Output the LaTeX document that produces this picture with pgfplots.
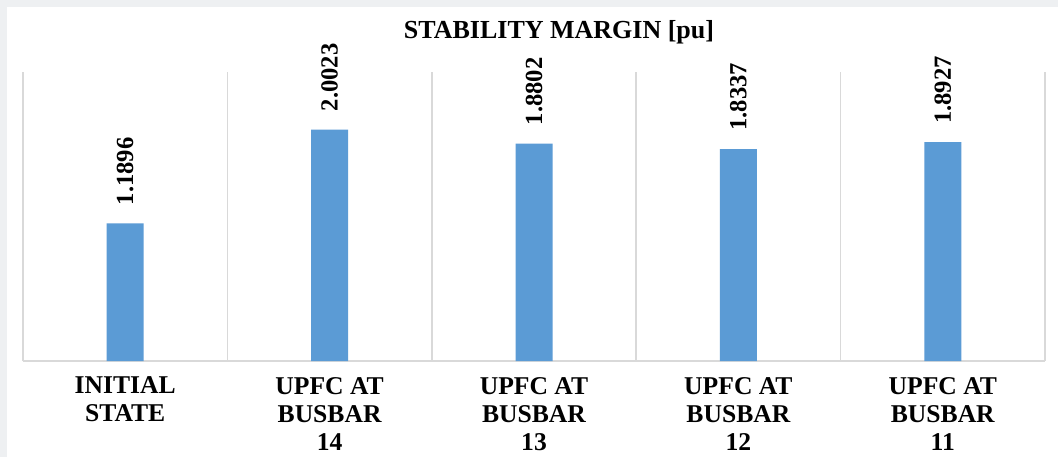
\documentclass[border=0pt]{standalone}
\usepackage{fontspec}
\setmainfont{Liberation Serif}
\usepackage{pgfplots}
\pgfplotsset{compat=1.18}
\definecolor{barblue}{HTML}{5B9BD5}
\definecolor{gridgray}{HTML}{D9D9D9}
\definecolor{framegray}{HTML}{EEF0F2}

\begin{document}
\begin{tikzpicture}
  % page background with a thin frame strip at top and left
  \fill[framegray] (0,0) rectangle (529pt,228.5pt);
  \fill[white] (3.5pt,0) rectangle (529pt,225pt);
  \useasboundingbox (0,0) rectangle (529pt,228.5pt);

  \begin{axis}[
    at={(11.5pt,48pt)}, anchor=south west,
    scale only axis, width=511pt, height=144.5pt,
    xmin=-0.5, xmax=4.5, ymin=0, ymax=2.5,
    axis line style={draw=none},
    major tick length=0pt, minor tick length=0pt,
    ytick=\empty,
    xtick={0,1,2,3,4},
    xticklabels={{INITIAL\\STATE},{UPFC AT\\BUSBAR\\14},{UPFC AT\\BUSBAR\\13},{UPFC AT\\BUSBAR\\12},{UPFC AT\\BUSBAR\\11}},
    xticklabel style={align=center, anchor=north, yshift=-4.5pt,
      font=\bfseries\fontsize{12.8}{14}\selectfont},
    minor xtick={-0.5,0.5,1.5,2.5,3.5,4.5},
    xminorgrids,
    minor grid style={gridgray, line width=0.75pt},
    extra y ticks={0},
    extra y tick labels={},
    extra y tick style={grid=major, major grid style={gridgray, line width=0.75pt}},
    clip=false,
  ]
    \addplot[ybar, bar width=18.5pt, fill=barblue, draw=none,
      nodes near coords={\pgfmathprintnumber[fixed, precision=4, fixed zerofill, assume math mode=true]{\pgfplotspointmeta}},
      nodes near coords style={rotate=90, anchor=west, inner xsep=9pt, inner ysep=0pt,
        font=\bfseries\fontsize{12.3}{14}\selectfont, text=black},
    ] coordinates {(0,1.1896) (1,2.0023) (2,1.8802) (3,1.8337) (4,1.8927)};
  \end{axis}

  \node[anchor=base, font=\bfseries\fontsize{13}{15}\selectfont, inner sep=0pt]
    at (279.5pt,209.5pt) {STABILITY MARGIN [pu]};
\end{tikzpicture}
\end{document}
